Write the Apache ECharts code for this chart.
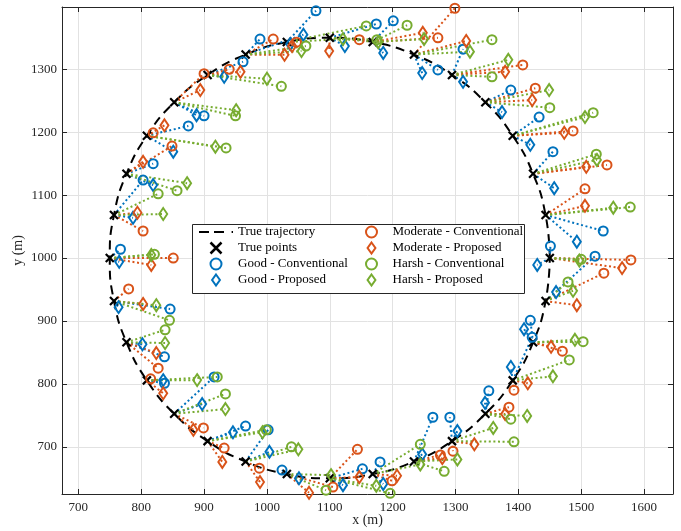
<!DOCTYPE html>
<html><head><meta charset="utf-8">
<script src="https://cdn.jsdelivr.net/npm/echarts/dist/echarts.min.js"></script>
<style>html,body{margin:0;padding:0;background:#fff}#c{width:681px;height:531px}</style>
</head><body><div id="c"></div>
<script>
// True points (m)
const trueX = [1450.0, 1443.3, 1423.4, 1391.0, 1347.5, 1294.4, 1233.9, 1168.3, 1100.0, 1031.7, 966.1, 905.6, 852.5, 809.0, 776.6, 756.7, 750.0, 756.7, 776.6, 809.0, 852.5, 905.6, 966.1, 1031.7, 1100.0, 1168.3, 1233.9, 1294.4, 1347.5, 1391.0, 1423.4, 1443.3];
const trueY = [1000.0, 1068.3, 1133.9, 1194.4, 1247.5, 1291.0, 1323.4, 1343.3, 1350.0, 1343.3, 1323.4, 1291.0, 1247.5, 1194.4, 1133.9, 1068.3, 1000.0, 931.7, 866.1, 805.6, 752.5, 709.0, 676.6, 656.7, 650.0, 656.7, 676.6, 709.0, 752.5, 805.6, 866.1, 931.7];
// Good - Conventional
const goodConvX = [1451, 1535, 1455, 1433, 1388, 1312, 1272, 1201, 1174, 1078, 989, 962, 900, 875, 819, 803, 767, 846, 837, 837, 916, 966, 1002, 1024, 1152, 1180, 1264, 1291, 1353, 1422, 1419, 1522];
const goodConvY = [1019, 1043, 1169, 1224, 1267, 1332, 1299, 1377, 1372, 1393, 1348, 1312, 1226, 1210, 1150, 1124, 1014, 919, 843, 801, 811, 733, 727, 663, 665, 676, 747, 747, 789, 874, 901, 1003];
// Good - Proposed
const goodPropX = [1430, 1493, 1457, 1419, 1374, 1312, 1247, 1185, 1124, 1037, 1058, 932, 888, 851, 819, 787, 765, 764, 802, 835, 897, 946, 1004, 1051, 1121, 1185, 1247, 1303, 1347, 1388, 1409, 1460];
const goodPropY = [989, 1026, 1111, 1180, 1232, 1280, 1294, 1326, 1337, 1340, 1355, 1288, 1227, 1169, 1116, 1064, 994, 922, 863, 806, 768, 723, 692, 650, 639, 641, 688, 725, 770, 827, 887, 946];
// Moderate - Conventional
const modConvX = [1579, 1506, 1541, 1487, 1427, 1407, 1299, 1272, 1147, 1047, 1010, 940, 900, 819, 849, 803, 851, 780, 827, 815, 899, 932, 988, 1105, 1144, 1199, 1276, 1296, 1385, 1393, 1470, 1536];
const modConvY = [997, 1110, 1148, 1202, 1270, 1307, 1397, 1350, 1347, 1343, 1348, 1300, 1293, 1199, 1178, 1043, 1000, 951, 825, 808, 730, 698, 666, 636, 696, 646, 687, 693, 763, 790, 852, 976];
// Moderate - Proposed
const modPropX = [1565, 1506, 1508, 1473, 1422, 1379, 1317, 1248, 1099, 1040, 1028, 958, 894, 837, 803, 794, 816, 803, 824, 835, 883, 929, 989, 1067, 1147, 1207, 1279, 1330, 1379, 1415, 1452, 1493];
const modPropY = [984, 1083, 1145, 1199, 1251, 1296, 1345, 1358, 1329, 1337, 1323, 1296, 1267, 1211, 1153, 1072, 989, 927, 849, 785, 727, 676, 644, 627, 652, 654, 682, 704, 752, 801, 859, 925];
// Harsh - Conventional
const harshConvX = [1500, 1578, 1524, 1519, 1450, 1358, 1358, 1223, 1175, 1158, 1062, 1023, 950, 935, 857, 827, 821, 845, 838, 921, 934, 999, 1039, 1094, 1196, 1244, 1282, 1393, 1388, 1481, 1503, 1479];
const harshConvY = [998, 1081, 1165, 1231, 1239, 1288, 1347, 1370, 1347, 1369, 1337, 1273, 1226, 1175, 1107, 1102, 1006, 901, 886, 811, 784, 727, 700, 631, 626, 704, 661, 708, 744, 838, 867, 962];
// Harsh - Proposed
const harshPropX = [1497, 1551, 1525, 1506, 1449, 1384, 1323, 1250, 1177, 1121, 1055, 1000, 951, 918, 873, 835, 816, 824, 838, 889, 934, 993, 1050, 1102, 1174, 1244, 1303, 1360, 1414, 1455, 1490, 1487];
const harshPropY = [996, 1080, 1156, 1224, 1267, 1315, 1328, 1348, 1343, 1348, 1329, 1285, 1235, 1177, 1119, 1070, 1005, 925, 865, 806, 760, 723, 696, 655, 638, 672, 680, 730, 749, 812, 870, 948];

const FONT = 'Liberation Serif';
const BLUE = '#0072BD', ORANGE = '#D95319', GREEN = '#77AC30';
const zip = (xs, ys) => xs.map((x, i) => [x, ys[i]]);
const links = (xs, ys) => xs.map((x, i) => ({coords: [[trueX[i], trueY[i]], [x, ys[i]]]}));
const traj = zip(trueX, trueY).concat([[trueX[0], trueY[0]]]);

const est = [
  {name: 'Good - Conventional', xs: goodConvX, ys: goodConvY, color: BLUE, symbol: 'circle'},
  {name: 'Good - Proposed', xs: goodPropX, ys: goodPropY, color: BLUE, symbol: 'diamond'},
  {name: 'Moderate - Conventional', xs: modConvX, ys: modConvY, color: ORANGE, symbol: 'circle'},
  {name: 'Moderate - Proposed', xs: modPropX, ys: modPropY, color: ORANGE, symbol: 'diamond'},
  {name: 'Harsh - Conventional', xs: harshConvX, ys: harshConvY, color: GREEN, symbol: 'circle'},
  {name: 'Harsh - Proposed', xs: harshPropX, ys: harshPropY, color: GREEN, symbol: 'diamond'}
];
const XMARK = 'path://M0,0L10,10M10,0L0,10';
const DIAMOND_ICON = 'path://M5,0L10,7L5,14L0,7Z';
const DASH_ICON = 'path://M0,0h10v2.2h-10zM15,0h10v2.2h-10zM32.6,0h1.4v2.2h-1.4z';

const series = [
  {type: 'line', name: 'True trajectory', data: traj, smooth: 0.5, symbol: 'none', z: 1,
   lineStyle: {color: '#000', width: 2, type: [9, 6]}, itemStyle: {color: '#000'}},
  {type: 'scatter', name: 'True points', data: zip(trueX, trueY), symbol: XMARK, symbolSize: 8, z: 2,
   itemStyle: {color: 'rgba(0,0,0,0)', borderColor: '#000', borderWidth: 2.2, opacity: 1}}
];
est.forEach((e, k) => {
  series.push({type: 'lines', name: '_l' + k, coordinateSystem: 'cartesian2d', data: links(e.xs, e.ys), z: 2,
    lineStyle: {color: e.color, width: 2, type: [2, 2.6], opacity: 1, cap: 'butt'}});
});
est.forEach((e) => {
  series.push({type: 'scatter', name: e.name, data: zip(e.xs, e.ys), symbol: e.symbol,
    symbolSize: e.symbol === 'circle' ? 9 : [8, 12], z: 3,
    itemStyle: {color: 'rgba(0,0,0,0)', borderColor: e.color, borderWidth: 2, opacity: 1}});
});

const plain = v => String(Math.round(v));
const axisBase = {
  type: 'value',
  axisLine: {show: true, onZero: false, lineStyle: {color: '#262626', width: 1}},
  axisTick: {show: true, inside: true, length: 5, lineStyle: {color: '#262626', width: 1}},
  axisLabel: {color: '#262626', fontFamily: FONT, fontSize: 13, showMinLabel: false, showMaxLabel: false, formatter: plain},
  splitLine: {show: true, lineStyle: {color: '#e2e2e2', width: 1}}
};
const xr = {min: 674, max: 1646, splitNumber: 10, minInterval: 100, maxInterval: 100};
const yr = {min: 625, max: 1399, splitNumber: 8, minInterval: 100, maxInterval: 100};

const legText = {fontFamily: FONT, fontSize: 13, color: '#000', lineHeight: 14};
const legItem = (name, icon, color, w) => ({name, icon,
  itemStyle: {color: 'rgba(0,0,0,0)', borderColor: color, borderWidth: w || 2}});
const legCommon = {orient: 'vertical', top: 225, itemHeight: 11, itemGap: 2, padding: 0,
  symbolKeepAspect: true, textStyle: legText, selectedMode: false, z: 20};

const option = {
  animation: false,
  backgroundColor: '#fff',
  grid: {left: 62, right: 8, top: 7, bottom: 37, containLabel: false, outerBoundsMode: 'none'},
  xAxis: [
    Object.assign({}, axisBase, xr, {position: 'bottom', name: 'x (m)', nameLocation: 'middle', nameGap: 19,
      nameMoveOverlap: false,
      nameTextStyle: {fontFamily: FONT, fontSize: 14, color: '#262626'},
      axisLabel: Object.assign({}, axisBase.axisLabel, {margin: 7})}),
    Object.assign({}, axisBase, xr, {position: 'top', axisLabel: {show: false}, splitLine: {show: false}})
  ],
  yAxis: [
    Object.assign({}, axisBase, yr, {position: 'left', name: 'y (m)', nameLocation: 'middle', nameGap: 37,
      nameMoveOverlap: false,
      nameRotate: 90, nameTextStyle: {fontFamily: FONT, fontSize: 14, color: '#262626'},
      axisLabel: Object.assign({}, axisBase.axisLabel, {margin: 5})}),
    Object.assign({}, axisBase, yr, {position: 'right', axisLabel: {show: false}, splitLine: {show: false}})
  ],
  graphic: [{type: 'rect', z: 15, silent: true,
    shape: {x: 192.5, y: 224.5, width: 332, height: 69},
    style: {fill: '#fff', stroke: '#262626', lineWidth: 1}}],
  legend: [
    Object.assign({}, legCommon, {left: 199, itemWidth: 34, data: [
      {name: 'True trajectory', icon: DASH_ICON, itemStyle: {color: '#000', borderWidth: 0}, lineStyle: {width: 0}},
      legItem('True points', XMARK, '#000', 2.5),
      legItem('Good - Conventional', 'circle', BLUE),
      legItem('Good - Proposed', DIAMOND_ICON, BLUE)]}),
    Object.assign({}, legCommon, {left: 365, itemWidth: 32, data: [
      legItem('Moderate - Conventional', 'circle', ORANGE),
      legItem('Moderate - Proposed', DIAMOND_ICON, ORANGE),
      legItem('Harsh - Conventional', 'circle', GREEN),
      legItem('Harsh - Proposed', DIAMOND_ICON, GREEN)]})
  ],
  series
};
const chart = echarts.init(document.getElementById('c'), null, {renderer: 'canvas'});
chart.setOption(option);
</script></body></html>
